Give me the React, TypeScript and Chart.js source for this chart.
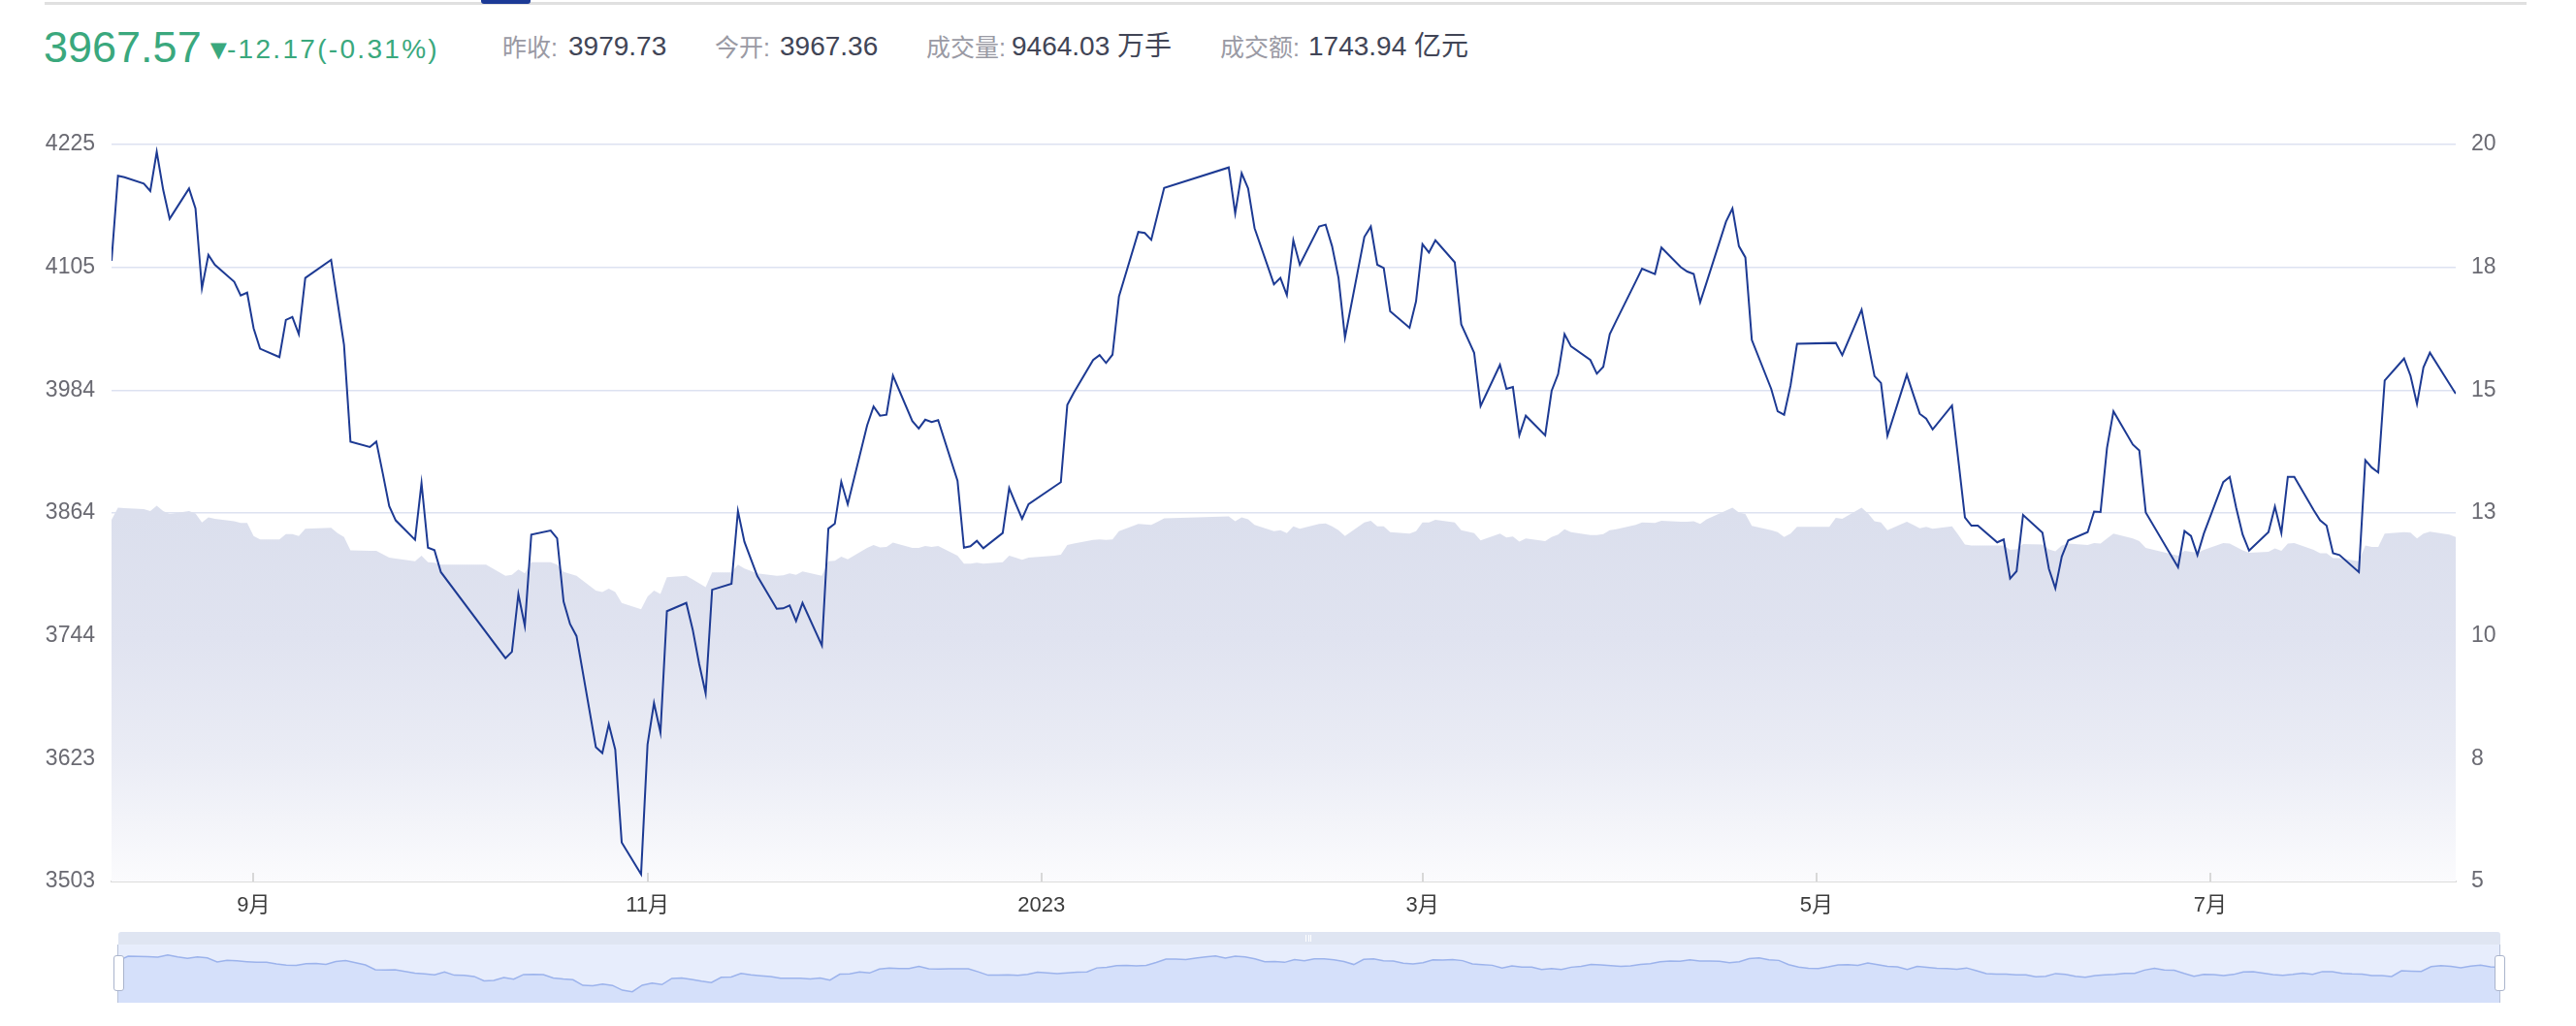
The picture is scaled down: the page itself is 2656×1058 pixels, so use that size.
import React, { useEffect, useRef } from 'react';
import { Chart, registerables } from 'chart.js';

Chart.register(...registerables);

// ---------- data ----------
const dates: string[] = [
  '2022-08-10', '2022-08-11', '2022-08-12', '2022-08-15', '2022-08-16', '2022-08-17', '2022-08-18', '2022-08-19', '2022-08-22', '2022-08-23', '2022-08-24', '2022-08-25', '2022-08-26', '2022-08-29', '2022-08-30', '2022-08-31',
  '2022-09-01', '2022-09-02', '2022-09-05', '2022-09-06', '2022-09-07', '2022-09-08', '2022-09-09', '2022-09-13', '2022-09-14', '2022-09-15', '2022-09-16', '2022-09-19', '2022-09-20', '2022-09-21', '2022-09-22', '2022-09-23', '2022-09-26', '2022-09-27', '2022-09-28', '2022-09-29', '2022-09-30',
  '2022-10-07', '2022-10-10', '2022-10-11', '2022-10-12', '2022-10-13', '2022-10-14', '2022-10-17', '2022-10-18', '2022-10-19', '2022-10-20', '2022-10-21', '2022-10-24', '2022-10-25', '2022-10-26', '2022-10-27', '2022-10-28', '2022-10-31',
  '2022-11-01', '2022-11-02', '2022-11-03', '2022-11-04', '2022-11-07', '2022-11-08', '2022-11-09', '2022-11-10', '2022-11-11', '2022-11-14', '2022-11-15', '2022-11-16', '2022-11-17', '2022-11-18', '2022-11-21', '2022-11-22', '2022-11-23', '2022-11-24', '2022-11-25', '2022-11-28', '2022-11-29', '2022-11-30',
  '2022-12-01', '2022-12-02', '2022-12-05', '2022-12-06', '2022-12-07', '2022-12-08', '2022-12-09', '2022-12-12', '2022-12-13', '2022-12-14', '2022-12-15', '2022-12-16', '2022-12-19', '2022-12-20', '2022-12-21', '2022-12-22', '2022-12-23', '2022-12-26', '2022-12-27', '2022-12-28', '2022-12-29', '2022-12-30',
  '2023-01-03', '2023-01-04', '2023-01-05', '2023-01-06', '2023-01-09', '2023-01-10', '2023-01-11', '2023-01-12', '2023-01-13', '2023-01-16', '2023-01-17', '2023-01-18', '2023-01-19', '2023-01-20', '2023-01-30', '2023-01-31',
  '2023-02-01', '2023-02-02', '2023-02-03', '2023-02-06', '2023-02-07', '2023-02-08', '2023-02-09', '2023-02-10', '2023-02-13', '2023-02-14', '2023-02-15', '2023-02-16', '2023-02-17', '2023-02-20', '2023-02-21', '2023-02-22', '2023-02-23', '2023-02-24', '2023-02-27', '2023-02-28',
  '2023-03-01', '2023-03-02', '2023-03-03', '2023-03-06', '2023-03-07', '2023-03-08', '2023-03-09', '2023-03-10', '2023-03-13', '2023-03-14', '2023-03-15', '2023-03-16', '2023-03-17', '2023-03-20', '2023-03-21', '2023-03-22', '2023-03-23', '2023-03-24', '2023-03-27', '2023-03-28', '2023-03-29', '2023-03-30', '2023-03-31',
  '2023-04-03', '2023-04-04', '2023-04-06', '2023-04-07', '2023-04-10', '2023-04-11', '2023-04-12', '2023-04-13', '2023-04-14', '2023-04-17', '2023-04-18', '2023-04-19', '2023-04-20', '2023-04-21', '2023-04-24', '2023-04-25', '2023-04-26', '2023-04-27', '2023-04-28',
  '2023-05-03', '2023-05-04', '2023-05-05', '2023-05-08', '2023-05-09', '2023-05-10', '2023-05-11', '2023-05-12', '2023-05-15', '2023-05-16', '2023-05-17', '2023-05-18', '2023-05-19', '2023-05-22', '2023-05-23', '2023-05-24', '2023-05-25', '2023-05-26', '2023-05-29', '2023-05-30', '2023-05-31',
  '2023-06-01', '2023-06-02', '2023-06-05', '2023-06-06', '2023-06-07', '2023-06-08', '2023-06-09', '2023-06-12', '2023-06-13', '2023-06-14', '2023-06-15', '2023-06-16', '2023-06-19', '2023-06-20', '2023-06-21', '2023-06-26', '2023-06-27', '2023-06-28', '2023-06-29', '2023-06-30',
  '2023-07-03', '2023-07-04', '2023-07-05', '2023-07-06', '2023-07-07', '2023-07-10', '2023-07-11', '2023-07-12', '2023-07-13', '2023-07-14', '2023-07-17', '2023-07-18', '2023-07-19', '2023-07-20', '2023-07-21', '2023-07-24', '2023-07-25', '2023-07-26', '2023-07-27', '2023-07-28', '2023-07-31',
  '2023-08-01', '2023-08-02', '2023-08-03', '2023-08-04', '2023-08-07', '2023-08-08',
];

// index close (left axis); null = market closed (only the right-axis series has a value)
const closePrices: (number | null)[] = [
  4111.0, 4194.4, 4192.9, 4186.7, 4179.5, 4217.8, 4180.5, 4152.2, 4181.9, 4162.3, 4084.2, 4116.8, 4107.2, 4090.5, 4077.1, 4079.9,
  4045.0, 4024.9, 4016.7, 4053.1, 4056.0, 4039.2, 4094.3, 4112.0, 4070.4, 4028.7, 3933.9, 3928.6, 3933.9, 3902.8, 3870.7, 3856.8, 3837.7, 3893.2, 3830.0, 3827.6, 3806.1,
  null, 3721.8, 3728.0, 3784.5, 3753.4, 3842.9, 3846.8, 3839.1, 3777.3, 3755.3, 3743.4, 3634.7, 3628.9, 3657.2, 3632.3, 3541.3, 3510.2,
  3637.1, 3677.8, 3649.0, 3767.8, 3775.9, 3749.6, 3716.1, 3687.3, 3788.8, 3794.6, 3865.9, 3835.8, 3819.0, 3802.2, 3770.2, 3770.6, 3773.5, 3758.2, 3775.9, 3734.2, 3848.7, 3853.5,
  3894.6, 3872.6, 3949.7, 3968.4, 3959.3, 3960.2, 3998.5, 3954.0, 3946.8, 3955.4, 3953.1, 3955.0, 3895.6, 3830.0, 3831.4, 3836.7, 3829.5, 3844.4, 3888.4, 3873.1, 3858.3, 3872.6,
  3889.9, 3894.2, 3969.8, 3981.8, 4013.9, 4018.7, 4011.0, 4019.1, 4076.1, 4139.3, 4138.3, 4131.6, 4157.0, 4182.4, 4202.5, 4157.5,
  4196.8, 4181.9, 4143.1, 4088.1, 4094.3, 4077.5, 4131.2, 4107.2, 4144.6, 4146.5, 4125.4, 4094.3, 4035.9, 4134.5, 4144.6, 4107.2, 4103.9, 4061.7, 4045.5, 4071.3,
  4127.3, 4119.2, 4131.2, 4109.6, 4048.8, 4034.9, 4021.0, 3968.9, 4009.1, 3985.6, 3987.5, 3940.1, 3959.3, 3940.1, 3983.7, 4000.0, 4039.2, 4027.3, 4013.9, 4000.5, 4007.2, 4039.2, 4052.2,
  4090.5, 4103.4, 4098.1, 4124.0, 4104.8, 4100.5, 4098.1, 4070.4, 4090.0, 4149.4, 4162.3, 4125.4, 4114.4, 4033.5, 3985.6, 3963.6, 3960.2, 3989.0, 4029.7,
  null, 4030.6, 4018.7, 4063.2, 4030.6, 3998.1, 3991.4, 3939.7, 3999.5, 3980.3, 3961.2, 3956.4, 3945.9, 3969.3, 3914.8, 3859.7, 3851.6, 3851.6, 3835.3, 3838.1, 3799.8,
  3807.0, 3862.1, 3844.8, 3809.4, 3790.3, 3821.4, 3837.2, 3845.3, 3865.4, 3865.0, 3927.7, 3963.6, 3931.0, 3925.3, 3864.5, 3810.9, 3846.3, 3841.5, 3822.8, 3843.9,
  3894.2, 3899.4, 3869.3, 3842.9, 3827.1, 3845.3, 3870.2, 3844.4, 3899.4, 3899.4, 3866.9, 3856.8, 3851.6, 3824.7, 3822.8, 3806.1, 3915.7, 3908.5, 3903.7, 3993.8, 4015.3,
  3998.5, 3970.8, 4006.7, 4021.0, 3990.9, 3980.8,
];

// shaded series (right axis)
const peValues: number[] = [
  12.36, 12.61, 12.60, 12.58, 12.54, 12.65, 12.54, 12.48, 12.54, 12.49, 12.31, 12.41, 12.38, 12.33, 12.30, 12.30,
  12.03, 11.96, 11.96, 12.07, 12.07, 12.03, 12.18, 12.20, 12.09, 12.01, 11.74, 11.73, 11.73, 11.66, 11.59, 11.57, 11.52, 11.63, 11.50, 11.49, 11.45,
  11.45, 11.22, 11.24, 11.35, 11.27, 11.50, 11.50, 11.45, 11.30, 11.26, 11.22, 10.92, 10.89, 10.96, 10.89, 10.67, 10.54,
  10.80, 10.92, 10.85, 11.19, 11.22, 11.15, 11.07, 10.99, 11.29, 11.29, 11.45, 11.37, 11.32, 11.27, 11.22, 11.23, 11.27, 11.24, 11.31, 11.22, 11.52, 11.53,
  11.61, 11.56, 11.79, 11.85, 11.80, 11.81, 11.90, 11.79, 11.79, 11.83, 11.81, 11.83, 11.63, 11.47, 11.47, 11.49, 11.47, 11.50, 11.63, 11.59, 11.55, 11.59,
  11.63, 11.65, 11.85, 11.88, 11.95, 11.96, 11.95, 11.96, 12.13, 12.28, 12.27, 12.26, 12.32, 12.39, 12.43, 12.33,
  12.41, 12.37, 12.26, 12.13, 12.15, 12.09, 12.23, 12.18, 12.28, 12.29, 12.23, 12.15, 12.03, 12.31, 12.34, 12.23, 12.23, 12.11, 12.08, 12.13,
  12.31, 12.31, 12.36, 12.31, 12.15, 12.12, 12.09, 11.94, 12.08, 12.00, 12.02, 11.92, 11.98, 11.93, 12.01, 12.06, 12.17, 12.11, 12.05, 12.05, 12.07, 12.15, 12.17,
  12.26, 12.31, 12.30, 12.34, 12.32, 12.32, 12.33, 12.28, 12.37, 12.55, 12.61, 12.51, 12.48, 12.24, 12.15, 12.11, 12.01, 12.08, 12.22,
  12.22, 12.40, 12.38, 12.61, 12.49, 12.33, 12.31, 12.15, 12.32, 12.26, 12.19, 12.22, 12.18, 12.23, 12.05, 11.86, 11.84, 11.84, 11.84, 11.84, 11.75,
  11.76, 11.87, 11.86, 11.76, 11.72, 11.84, 11.88, 11.85, 11.89, 11.88, 11.98, 12.08, 11.98, 11.93, 11.79, 11.63, 11.73, 11.71, 11.69, 11.75,
  11.89, 11.88, 11.81, 11.74, 11.69, 11.71, 11.78, 11.73, 11.88, 11.89, 11.75, 11.68, 11.68, 11.58, 11.58, 11.52, 11.84, 11.81, 11.81, 12.08, 12.11,
  12.10, 11.98, 12.08, 12.12, 12.06, 12.01,
];

const xTickDates: string[] = ['2022-09-01', '2022-11-01', '2023-01-01', '2023-03-01', '2023-05-01', '2023-07-01'];
const xTickLabels: string[] = ['9月', '11月', '2023', '3月', '5月', '7月'];
const leftAxisRange: number[] = [3503, 4225];
const rightAxisRange: number[] = [5, 20];
const axisTickCount = 7;

// header quote
const lastPrice = '3967.57';
const changeText = '-12.17';
const changePctText = '(-0.31%)';
const quoteLabels: string[] = ['昨收:', '今开:', '成交量:', '成交额:'];
const quoteValues: string[] = ['3979.73', '3967.36', '9464.03 万手', '1743.94 亿元'];

// ---------- helpers ----------
const FONT = "'Liberation Sans', Arial, 'Noto Sans CJK SC', sans-serif";
const toDay = (s: string) => {
  const [y, m, d] = s.split('-').map(Number);
  return Date.UTC(y, m - 1, d) / 86400000;
};

const W = 2656;
const MAIN_TOP = 100;
const MAIN_H = 860;

function MainChart() {
  const ref = useRef<HTMLCanvasElement>(null);
  useEffect(() => {
    const canvas = ref.current;
    if (!canvas) return;
    const xs = dates.map(toDay);
    const priceData = dates.map((_, i) => ({ x: xs[i], y: closePrices[i] }));
    const peData = dates.map((_, i) => ({ x: xs[i], y: peValues[i] }));
    const tickDays = xTickDates.map(toDay);

    const tickMarks = {
      id: 'tickMarks',
      afterDraw(chart: any) {
        const sx = chart.scales.x;
        const c = chart.ctx;
        const bottom = chart.chartArea.bottom;
        c.save();
        c.strokeStyle = '#d8d8d8';
        c.lineWidth = 2;
        for (const t of tickDays) {
          const px = Math.round(sx.getPixelForValue(t));
          c.beginPath();
          c.moveTo(px, bottom);
          c.lineTo(px, bottom - 9);
          c.stroke();
        }
        c.restore();
      },
    };

    const chart = new Chart(canvas, {
      type: 'line',
      data: {
        datasets: [
          {
            label: '收盘',
            data: priceData as any,
            yAxisID: 'y',
            borderColor: '#1d3a93',
            borderWidth: 2,
            pointRadius: 0,
            tension: 0,
            spanGaps: true,
            fill: false,
          },
          {
            label: '市盈率',
            data: peData as any,
            yAxisID: 'y1',
            borderWidth: 0,
            borderColor: 'rgba(0,0,0,0)',
            pointRadius: 0,
            tension: 0,
            fill: 'start',
            backgroundColor: (c: any) => {
              const { chart: ch } = c;
              const area = ch.chartArea;
              if (!area) return 'rgb(221,225,238)';
              const g = ch.ctx.createLinearGradient(0, area.top, 0, area.bottom);
              g.addColorStop(0, 'rgb(212,217,234)');
              g.addColorStop(0.5, 'rgb(219,223,237)');
              g.addColorStop(0.67, 'rgb(224,227,240)');
              g.addColorStop(0.83, 'rgb(234,236,245)');
              g.addColorStop(1, 'rgb(251,251,253)');
              return g;
            },
          },
        ],
      },
      options: {
        responsive: false,
        animation: false,
        events: [],
        layout: { padding: { top: 49, left: 0, right: 0, bottom: 0 } },
        plugins: { legend: { display: false }, tooltip: { enabled: false } },
        scales: {
          x: {
            type: 'linear',
            min: xs[0],
            max: xs[xs.length - 1],
            afterBuildTicks: (s: any) => {
              s.ticks = tickDays.map((v) => ({ value: v }));
            },
            afterFit: (s: any) => {
              s.height = 51;
            },
            ticks: {
              autoSkip: false,
              maxRotation: 0,
              padding: 12,
              color: '#3c3c3c',
              font: { family: FONT, size: 22 },
              callback: (_v: any, i: number) => xTickLabels[i],
            },
            grid: { display: false, drawTicks: false },
            border: { display: true, color: '#dcdcdc', width: 2 },
          },
          y: {
            position: 'left',
            min: leftAxisRange[0],
            max: leftAxisRange[1],
            z: 1,
            afterFit: (s: any) => {
              s.width = 115;
            },
            ticks: {
              count: axisTickCount,
              padding: 17,
              color: '#6a6a72',
              font: { family: FONT, size: 23 },
              callback: (v: any) => String(Math.round(Number(v))),
            },
            grid: {
              drawTicks: false,
              lineWidth: 1.5,
              color: (c: any) => (c.index === 0 ? 'rgba(0,0,0,0)' : 'rgba(160,175,215,0.36)'),
            },
            border: { display: false },
          },
          y1: {
            position: 'right',
            min: rightAxisRange[0],
            max: rightAxisRange[1],
            afterFit: (s: any) => {
              s.width = 124;
            },
            ticks: {
              count: axisTickCount,
              padding: 16,
              color: '#6a6a72',
              font: { family: FONT, size: 23 },
              callback: (v: any) => String(Math.round(Number(v))),
            },
            grid: { display: false, drawTicks: false },
            border: { display: false },
          },
        },
      } as any,
      plugins: [tickMarks],
    });
    return () => chart.destroy();
  }, []);
  return (
    <canvas
      ref={ref}
      width={W}
      height={MAIN_H}
      style={{ position: 'absolute', left: 0, top: MAIN_TOP, width: W, height: MAIN_H }}
    />
  );
}

const SL_LEFT = 122;
const SL_W = 2456;
const SL_TOP = 961;

function SliderChart() {
  const ref = useRef<HTMLCanvasElement>(null);
  useEffect(() => {
    const canvas = ref.current;
    if (!canvas) return;
    const labels: string[] = [];
    const vals: number[] = [];
    dates.forEach((d, i) => {
      const v = closePrices[i];
      if (v !== null) {
        labels.push(d);
        vals.push(v);
      }
    });
    const chart = new Chart(canvas, {
      type: 'line',
      data: {
        labels,
        datasets: [
          {
            data: vals,
            borderColor: '#9cb3ec',
            borderWidth: 1.5,
            pointRadius: 0,
            tension: 0,
            fill: 'start',
            backgroundColor: '#d5e0fa',
          },
        ],
      },
      options: {
        responsive: false,
        animation: false,
        events: [],
        layout: { padding: 0 },
        plugins: { legend: { display: false }, tooltip: { enabled: false } },
        scales: {
          x: { display: false, offset: false },
          y: { display: false, min: 3300, max: 4420 },
        },
      } as any,
    });
    return () => chart.destroy();
  }, []);
  return (
    <canvas
      ref={ref}
      width={SL_W}
      height={60}
      style={{ position: 'absolute', left: SL_LEFT, top: SL_TOP + 13, width: SL_W, height: 60 }}
    />
  );
}

function Txt(props: { left: number; base: number; size: number; color: string; children: React.ReactNode; ls?: number }) {
  const top = props.base - 0.8465 * props.size;
  return (
    <div
      style={{
        position: 'absolute',
        left: props.left,
        top,
        fontSize: props.size,
        lineHeight: 1,
        color: props.color,
        whiteSpace: 'nowrap',
        fontFamily: FONT,
        letterSpacing: props.ls ?? 0,
      }}
    >
      {props.children}
    </div>
  );
}

export default function App() {
  const green = '#3aa87d';
  const labelLefts = [518, 737, 955, 1258];
  const valueLefts = [586, 804, 1043, 1349];
  return (
    <div style={{ position: 'absolute', left: 0, top: 0, width: W, height: 1058, background: '#fff', overflow: 'hidden', fontFamily: FONT }}>
      {/* top tab bar */}
      <div style={{ position: 'absolute', left: 46, top: 2, width: 2559, height: 3, background: '#e0e0e0' }} />
      <div style={{ position: 'absolute', left: 496, top: 0, width: 51, height: 4, background: '#1c3a96', borderRadius: '0 0 3px 3px' }} />

      {/* quote header */}
      <Txt left={45} base={64} size={45} color={green}>{lastPrice}</Txt>
      <Txt left={211} base={62} size={29} color={green}>▼</Txt>
      <Txt left={234} base={61} size={28} color={green} ls={2.3}>{changeText + changePctText}</Txt>
      {quoteLabels.map((l, i) => (
        <Txt key={'l' + i} left={labelLefts[i]} base={58} size={25} color="#9a9aa4">{l}</Txt>
      ))}
      {quoteValues.map((v, i) => (
        <Txt key={'v' + i} left={valueLefts[i]} base={58} size={28} color="#414556">{v}</Txt>
      ))}

      <MainChart />

      {/* data-zoom slider */}
      <div style={{ position: 'absolute', left: SL_LEFT, top: SL_TOP, width: SL_W, height: 13, background: '#dfe5f2', borderRadius: '3px 3px 0 0' }} />
      {[0, 1, 2].map((k) => (
        <div key={k} style={{ position: 'absolute', left: 1346 + k * 2.5, top: SL_TOP + 3, width: 1, height: 7, background: '#ffffff' }} />
      ))}
      <div style={{ position: 'absolute', left: SL_LEFT, top: SL_TOP + 13, width: SL_W, height: 60, background: '#e7edfc', borderBottom: '1px solid #d2daee', boxSizing: 'border-box' }} />
      <SliderChart />
      <div style={{ position: 'absolute', left: SL_LEFT - 1, top: SL_TOP + 13, width: 1, height: 60, background: '#b8c2d8' }} />
      <div style={{ position: 'absolute', left: SL_LEFT + SL_W - 1, top: SL_TOP + 13, width: 1, height: 60, background: '#b8c2d8' }} />
      <div style={{ position: 'absolute', left: 117, top: 985, width: 11, height: 37, background: '#fff', border: '1.5px solid #aab4cc', borderRadius: 3, boxSizing: 'border-box' }} />
      <div style={{ position: 'absolute', left: 2572, top: 985, width: 11, height: 37, background: '#fff', border: '1.5px solid #aab4cc', borderRadius: 3, boxSizing: 'border-box' }} />
    </div>
  );
}
